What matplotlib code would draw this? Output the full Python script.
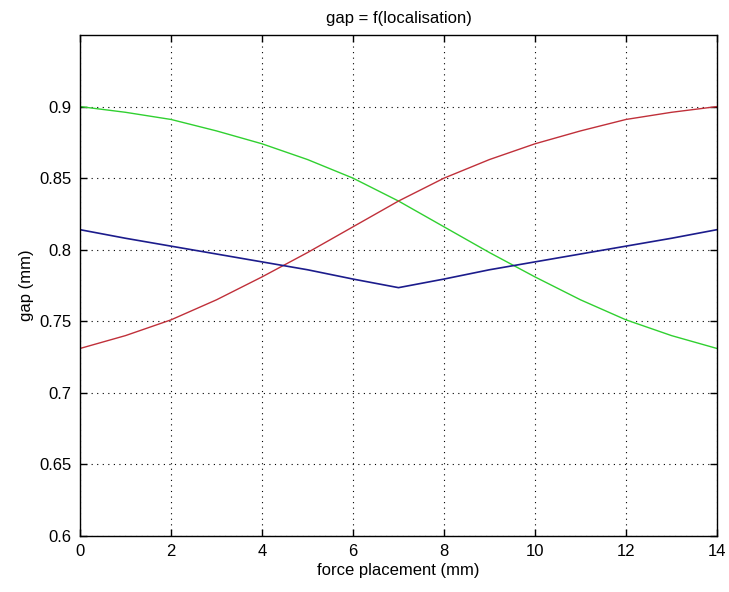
import matplotlib
matplotlib.use("Agg")
import matplotlib.pyplot as plt
import numpy as np

# force placement (mm)
x = [0, 1, 2, 3, 4, 5, 6, 7, 8, 9, 10, 11, 12, 13, 14]

# gap (mm) for the three curves
gap_green = [0.900, 0.896, 0.891, 0.883, 0.874, 0.863, 0.850, 0.834,
             0.816, 0.798, 0.781, 0.765, 0.751, 0.740, 0.731]
gap_red = [0.731, 0.740, 0.751, 0.765, 0.781, 0.798, 0.816, 0.834,
           0.850, 0.863, 0.874, 0.883, 0.891, 0.896, 0.900]
gap_blue = [0.814, 0.808, 0.8025, 0.797, 0.7915, 0.786, 0.7795, 0.7735,
            0.7795, 0.786, 0.7915, 0.797, 0.8025, 0.808, 0.814]

xticks = [0, 2, 4, 6, 8, 10, 12, 14]
yticks = [0.6, 0.65, 0.7, 0.75, 0.8, 0.85, 0.9]
ytick_labels = ["0.6", "0.65", "0.7", "0.75", "0.8", "0.85", "0.9"]

plt.rcParams.update({
    'font.family': 'Liberation Sans',
    'font.size': 12,
})

fig = plt.figure(figsize=(7.29, 5.92), dpi=100)
ax = fig.add_axes([80 / 729, 1 - 536 / 592, (717 - 80) / 729, (536 - 35) / 592])

ax.plot(x, gap_green, color='#30d030', lw=1.0)
ax.plot(x, gap_red, color='#c0303a', lw=1.0)
ax.plot(x, gap_blue, color='#1c1c8c', lw=1.2)

ax.set_xlim(0, 14)
ax.set_ylim(0.6, 0.95)
ax.set_xticks(xticks)
ax.set_yticks(yticks)
ax.set_yticklabels(ytick_labels)

ax.grid(True, color='black', linestyle=(0, (1, 4)), linewidth=0.8)
ax.tick_params(direction='in', length=5, width=1, top=True, right=True,
               labelsize=12, pad=6)
for s in ax.spines.values():
    s.set_linewidth(1.0)

ax.set_xlabel('force placement (mm)', fontsize=12, labelpad=3)
ax.set_ylabel('gap (mm)', fontsize=12, labelpad=4)
ax.set_title('gap = f(localisation)', fontsize=12, pad=9)

fig.savefig("out.png", dpi=100)
